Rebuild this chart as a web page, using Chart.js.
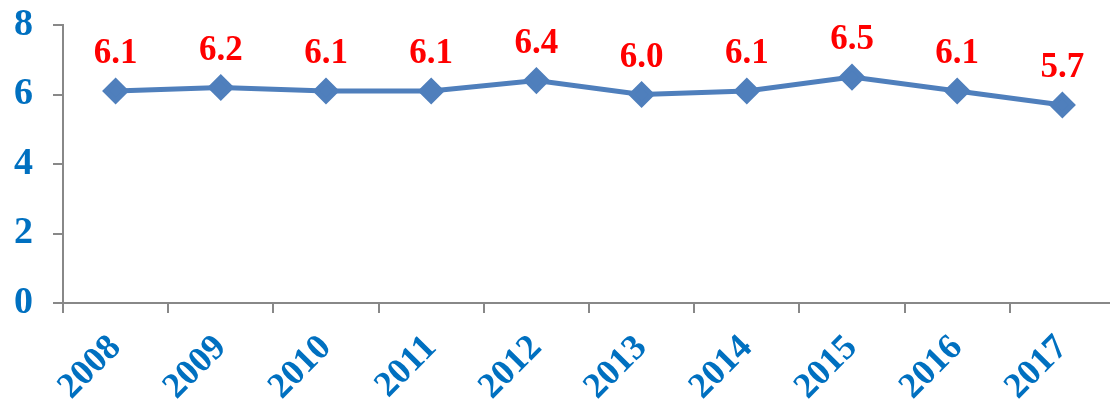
<!DOCTYPE html>
<html>
<head>
<meta charset="utf-8">
<script src="https://cdn.jsdelivr.net/npm/chart.js@4/dist/chart.umd.min.js"></script>
<style>
  html, body { margin: 0; padding: 0; background: #fff; overflow: hidden; }
  #wrap { width: 1130px; height: 403px; }
</style>
</head>
<body>
<div id="wrap"><canvas id="chart"></canvas></div>
<script>
const years = ['2008', '2009', '2010', '2011', '2012', '2013', '2014', '2015', '2016', '2017'];
const values = [6.1, 6.2, 6.1, 6.1, 6.4, 6.0, 6.1, 6.5, 6.1, 5.7];
const yTicks = [0, 2, 4, 6, 8];

const serif = '"Liberation Serif", "Times New Roman", serif';

// red value labels above each point
const valueLabels = {
  id: 'valueLabels',
  afterDatasetsDraw(chart) {
    const ctx = chart.ctx;
    const meta = chart.getDatasetMeta(0);
    ctx.save();
    ctx.fillStyle = '#ff0000';
    ctx.font = 'bold 35px ' + serif;
    ctx.textAlign = 'center';
    ctx.textBaseline = 'alphabetic';
    meta.data.forEach((pt, i) => {
      ctx.fillText(values[i].toFixed(1), pt.x, pt.y - 28);
    });
    ctx.restore();
  }
};

new Chart(document.getElementById('chart'), {
  type: 'line',
  data: {
    labels: years,
    datasets: [{
      data: values,
      borderColor: '#4f7fbc',
      backgroundColor: '#4f7fbc',
      borderWidth: 5,
      pointStyle: 'rectRot',
      pointRadius: 10,
      pointHoverRadius: 10,
      tension: 0
    }]
  },
  options: {
    responsive: true,
    maintainAspectRatio: false,
    animation: false,
    layout: { padding: { top: 25, left: 0, right: 1, bottom: 0 } },
    plugins: {
      legend: { display: false },
      tooltip: { enabled: false }
    },
    scales: {
      x: {
        offset: true,
        afterFit: (axis) => { axis.height = 100; axis.paddingRight = 0; axis.paddingLeft = 0; },
        grid: {
          display: true,
          drawOnChartArea: false,
          offset: true,
          color: '#888',
          tickLength: 10,
          lineWidth: 2
        },
        border: { color: '#888', width: 2 },
        ticks: {
          color: '#0070c0',
          font: { family: serif, size: 36, weight: 'bold' },
          minRotation: 45,
          maxRotation: 45,
          padding: 14
        }
      },
      y: {
        min: 0,
        max: 8,
        afterBuildTicks: (axis) => { axis.ticks = yTicks.map(v => ({ value: v })); },
        afterFit: (axis) => { axis.width = 63; axis.paddingTop = 0; axis.paddingBottom = 0; },
        grid: {
          display: true,
          drawOnChartArea: false,
          color: '#888',
          tickLength: 10,
          lineWidth: 2
        },
        border: { color: '#888', width: 2 },
        ticks: {
          color: '#0070c0',
          font: { family: serif, size: 38, weight: 'bold' },
          padding: 20
        }
      }
    }
  },
  plugins: [valueLabels]
});
</script>
</body>
</html>
